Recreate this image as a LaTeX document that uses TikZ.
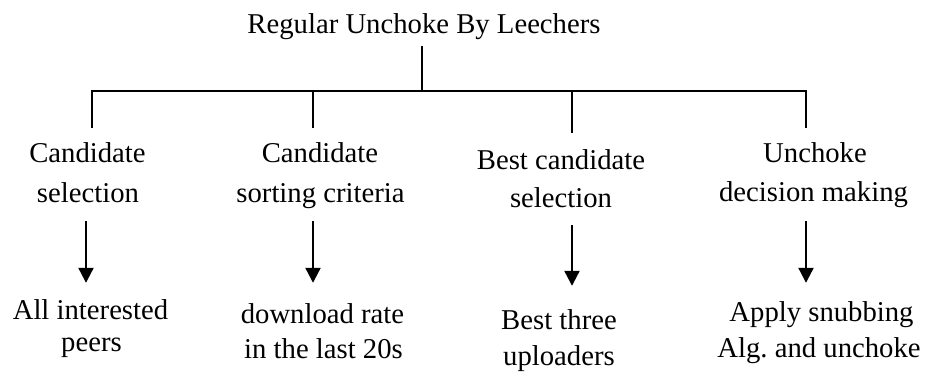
\documentclass[tikz,border=0pt]{standalone}
\usepackage{fontspec}
\setmainfont{Liberation Serif}
\usetikzlibrary{arrows.meta}
\begin{document}
\begin{tikzpicture}[x=1pt,y=-1pt,
  lbl/.style={inner sep=0pt, anchor=base, font=\fontsize{28.7}{34}\selectfont},
  wire/.style={line width=2.2pt, line join=miter},
  arr/.style={line width=2.2pt, -{Triangle[width=15pt,length=15pt]}}]
\useasboundingbox[fill=white] (0,0) rectangle (933,374);

% root
\node[lbl, text depth=12pt] (title) at (424,34) {Regular Unchoke By Leechers};

% junction points on the horizontal bar
\coordinate (hub) at (422,91);
\coordinate (j1) at (92,91);
\coordinate (j2) at (313,91);
\coordinate (j3) at (572,91);
\coordinate (j4) at (806,91);

% arrow columns
\coordinate (a1) at (86,0);
\coordinate (a2) at (313,0);
\coordinate (a3) at (572,0);
\coordinate (a4) at (806,0);

% category labels
\node[lbl, text height=35pt]   (c1a) at (87.5,163) {Candidate};
\node[lbl, text depth=19pt]    (c1b) at (88,202)   {selection};
\node[lbl, text height=35pt]   (c2a) at (320,163)  {Candidate};
\node[lbl, text depth=19pt]    (c2b) at (320.5,202){sorting criteria};
\node[lbl, text height=37pt]   (c3a) at (561,170)  {Best candidate};
\node[lbl, text depth=18pt]    (c3b) at (561,207)  {selection};
\node[lbl, text height=34.7pt] (c4a) at (815,162.7){Unchoke};
\node[lbl, text depth=19pt]    (c4b) at (813.5,201.7){decision making};

% outcomes
\node[lbl, text height=36pt] (r1a) at (90.5,319)  {All interested};
\node[lbl]                   (r1b) at (91.5,351)  {peers};
\node[lbl, text height=40pt] (r2a) at (322.5,323) {download rate};
\node[lbl]                   (r2b) at (323.5,358) {in the last 20s};
\node[lbl, text height=43pt] (r3a) at (559,329)   {Best three};
\node[lbl]                   (r3b) at (559,365)   {uploaders};
\node[lbl, text height=38pt] (r4a) at (821.5,321) {Apply snubbing};
\node[lbl]                   (r4b) at (819,357)   {Alg.\ and unchoke};

% tree connectors
\draw[wire] (hub |- title.south) -- (hub);
\draw[wire] (j1 |- c1a.north) -- (j1) -- (j4) -- (j4 |- c4a.north);
\draw[wire] (j2) -- (j2 |- c2a.north);
\draw[wire] (j3) -- (j3 |- c3a.north);

% downward arrows
\draw[arr] (a1 |- c1b.south) -- (a1 |- r1a.north);
\draw[arr] (a2 |- c2b.south) -- (a2 |- r2a.north);
\draw[arr] (a3 |- c3b.south) -- (a3 |- r3a.north);
\draw[arr] (a4 |- c4b.south) -- (a4 |- r4a.north);
\end{tikzpicture}
\end{document}
